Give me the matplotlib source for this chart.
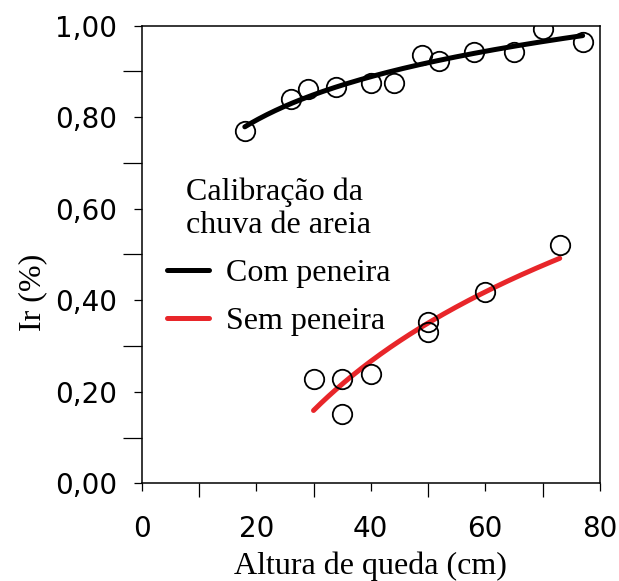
import numpy as np
import matplotlib.pyplot as plt
from matplotlib.ticker import MultipleLocator, FuncFormatter

# Ensaios de calibração da chuva de areia
altura_com = [18, 26, 29, 34, 40, 44, 49, 52, 58, 65, 70, 77]
ir_com = [0.770, 0.840, 0.861, 0.865, 0.874, 0.875, 0.935, 0.923, 0.942, 0.943, 0.993, 0.964]

altura_sem = [30, 35, 35, 40, 50, 50, 60, 73]
ir_sem = [0.229, 0.229, 0.151, 0.240, 0.353, 0.331, 0.417, 0.520]

vermelho = "#e8262a"


def ajuste_log(x, y):
    # curva de tendência logarítmica y = a + b ln(x)
    b, a = np.polyfit(np.log(x), y, 1)
    xs = np.linspace(min(x), max(x), 200)
    return xs, a + b * np.log(xs)


fig = plt.figure(figsize=(6.19, 5.81), dpi=100)
ax = fig.add_axes([0.229, 0.168, 0.740, 0.788])

xs, ys = ajuste_log(altura_com, ir_com)
ax.plot(xs, ys, color="black", lw=3.6, solid_capstyle="round", label="Com peneira", zorder=3)
xs, ys = ajuste_log(altura_sem, ir_sem)
ax.plot(xs, ys, color=vermelho, lw=3.6, solid_capstyle="round", label="Sem peneira", zorder=3)

ax.plot(altura_com, ir_com, "o", ms=14, mfc="none", mec="black", mew=1.3, zorder=4)
ax.plot(altura_sem, ir_sem, "o", ms=14, mfc="none", mec="black", mew=1.3, zorder=4)

ax.set_xlim(0, 80)
ax.set_ylim(0, 1.0)
ax.xaxis.set_major_locator(MultipleLocator(20))
ax.xaxis.set_minor_locator(MultipleLocator(10))
ax.yaxis.set_major_locator(MultipleLocator(0.2))
ax.yaxis.set_minor_locator(MultipleLocator(0.1))
ax.yaxis.set_major_formatter(FuncFormatter(lambda v, p: f"{v:.2f}".replace(".", ",")))

ax.tick_params(which="major", direction="out", length=6, width=0.9,
               labelsize=20, labelfontfamily="DejaVu Sans")
ax.tick_params(axis="y", which="major", pad=12)
ax.tick_params(axis="x", which="major", pad=17)
ax.tick_params(axis="y", which="minor", direction="out", length=14, width=0.9)
ax.tick_params(axis="x", which="minor", direction="out", length=10, width=0.9)
for s in ax.spines.values():
    s.set_linewidth(1.1)

serif = "Liberation Serif"
ax.set_xlabel("Altura de queda (cm)", fontsize=23, family=serif, labelpad=6)
ax.set_ylabel("Ir (%)", fontsize=23, family=serif)
ax.yaxis.set_label_coords(-0.207, 0.418)

leg = ax.legend(title="Calibração da\nchuva de areia", loc="upper left",
                bbox_to_anchor=(0.055, 0.669), frameon=False, borderaxespad=0,
                borderpad=0, prop={"family": serif, "size": 23}, handlelength=1.31,
                handletextpad=0.53, labelspacing=0.58)
leg.get_title().set_fontfamily(serif)
leg.get_title().set_fontsize(23)
leg.get_title().set_multialignment("left")

fig.savefig("out.png", dpi=100)
